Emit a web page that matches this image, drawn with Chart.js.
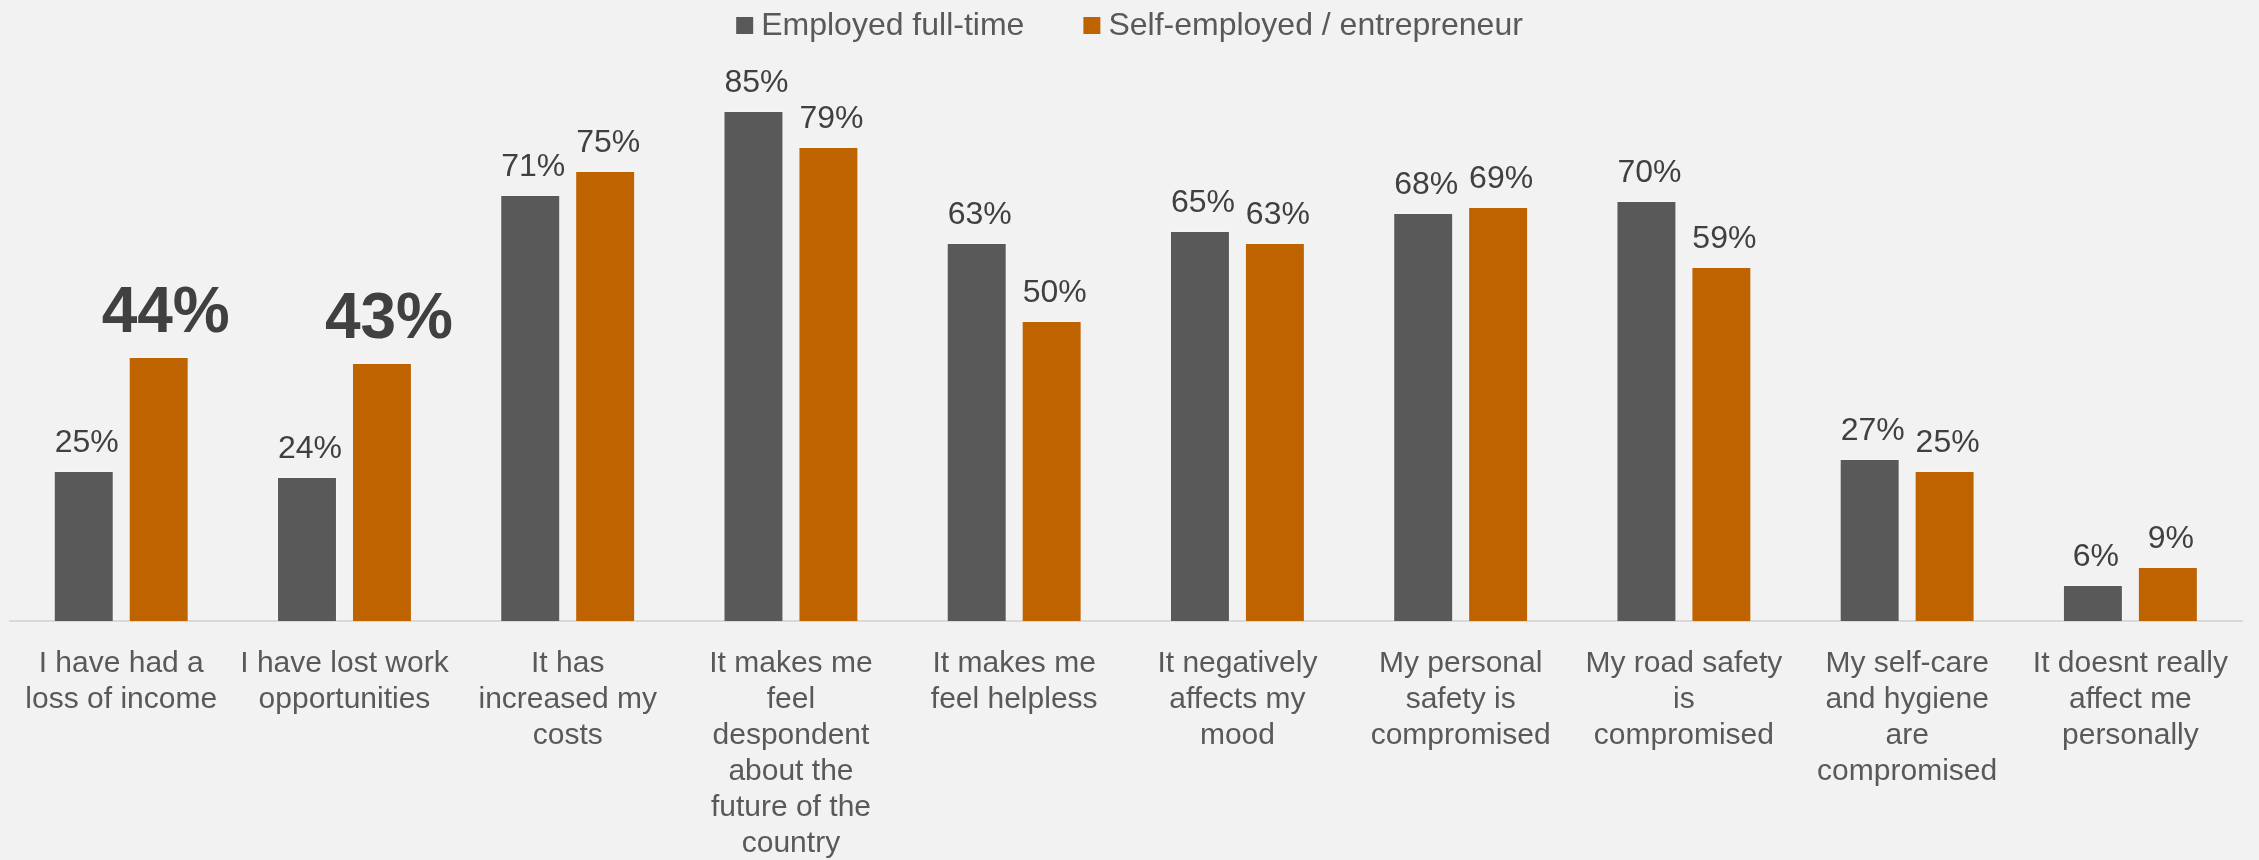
<!DOCTYPE html>
<html>
<head>
<meta charset="utf-8">
<script src="https://cdn.jsdelivr.net/npm/chart.js@4/dist/chart.umd.min.js"></script>
<style>
  html, body { margin: 0; padding: 0; background: #F2F2F2; }
  #wrap { width: 2259px; height: 860px; position: relative; }
</style>
</head>
<body>
<div id="wrap"><canvas id="chart" width="2259" height="860"></canvas></div>
<script>
// Survey answers, one entry per statement (multi-line labels)
const categories = [
  ["I have had a", "loss of income"],
  ["I have lost work", "opportunities"],
  ["It has", "increased my", "costs"],
  ["It makes me", "feel", "despondent", "about the", "future of the", "country"],
  ["It makes me", "feel helpless"],
  ["It negatively", "affects my", "mood"],
  ["My personal", "safety is", "compromised"],
  ["My road safety", "is", "compromised"],
  ["My self-care", "and hygiene", "are", "compromised"],
  ["It doesnt really", "affect me", "personally"]
];

const seriesNames = ["Employed full-time", "Self-employed / entrepreneur"];
const employedFullTime = [25, 24, 71, 85, 63, 65, 68, 70, 27, 6];
const selfEmployed = [44, 43, 75, 79, 50, 63, 69, 59, 25, 9];

// Self-employed answers called out with a large bold value label
const emphasizedSelfEmployed = [0, 1];

const GRAY = "#595959";
const ORANGE = "#BF6200";
const FONT = "'Liberation Sans', Arial, sans-serif";

// Percentage labels above each bar
const valueLabels = {
  id: "valueLabels",
  afterDatasetsDraw(chart) {
    const ctx = chart.ctx;
    ctx.save();
    ctx.fillStyle = "#404040";
    ctx.textAlign = "center";
    ctx.textBaseline = "alphabetic";
    chart.data.datasets.forEach((ds, di) => {
      const meta = chart.getDatasetMeta(di);
      meta.data.forEach((bar, i) => {
        const big = di === 1 && emphasizedSelfEmployed.includes(i);
        ctx.font = big ? "bold 64px " + FONT : "32px " + FONT;
        const text = ds.data[i] + "%";
        ctx.fillText(text, bar.x + (big ? 7 : 3), bar.y - (big ? 25 : 19));
      });
    });
    ctx.restore();
  }
};

// Legend row centred across the top
const topLegend = {
  id: "topLegend",
  afterDraw(chart) {
    const ctx = chart.ctx;
    ctx.save();
    ctx.font = "32px " + FONT;
    ctx.textBaseline = "alphabetic";
    ctx.textAlign = "left";
    const box = 17, boxGap = 8, itemGap = 59;
    const items = chart.data.datasets.map(ds => ({
      label: ds.label, color: ds.backgroundColor,
      w: ctx.measureText(ds.label).width
    }));
    const total = items.reduce((s, it) => s + box + boxGap + it.w, 0) + itemGap * (items.length - 1);
    let x = (chart.width - total) / 2;
    items.forEach(it => {
      ctx.fillStyle = it.color;
      ctx.fillRect(x, 17, box, box);
      ctx.fillStyle = "#595959";
      ctx.fillText(it.label, x + box + boxGap, 35);
      x += box + boxGap + it.w + itemGap;
    });
    ctx.restore();
  }
};

new Chart(document.getElementById("chart"), {
  type: "bar",
  data: {
    labels: categories,
    datasets: [
      {
        label: seriesNames[0],
        data: employedFullTime,
        backgroundColor: GRAY,
        borderColor: "rgba(255,255,255,0.25)",
        borderWidth: 1,
        categoryPercentage: 0.6714,
        barPercentage: 0.8
      },
      {
        label: seriesNames[1],
        data: selfEmployed,
        backgroundColor: ORANGE,
        borderColor: "rgba(255,255,255,0.25)",
        borderWidth: 1,
        categoryPercentage: 0.6714,
        barPercentage: 0.8
      }
    ]
  },
  options: {
    responsive: false,
    animation: false,
    layout: { padding: { left: 7, right: 17, top: 21, bottom: 0 } },
    plugins: {
      legend: { display: false },
      tooltip: { enabled: false }
    },
    scales: {
      x: {
        grid: { display: false, drawTicks: false },
        border: { display: true, color: "#D9D9D9", width: 2 },
        afterFit(scale) { scale.height = 239; },
        ticks: {
          autoSkip: false,
          maxRotation: 0,
          minRotation: 0,
          padding: 25,
          color: "#595959",
          font: { family: FONT, size: 30, lineHeight: 1.2 }
        }
      },
      y: {
        display: false,
        min: 0,
        max: 100
      }
    }
  },
  plugins: [valueLabels, topLegend]
});
</script>
</body>
</html>
